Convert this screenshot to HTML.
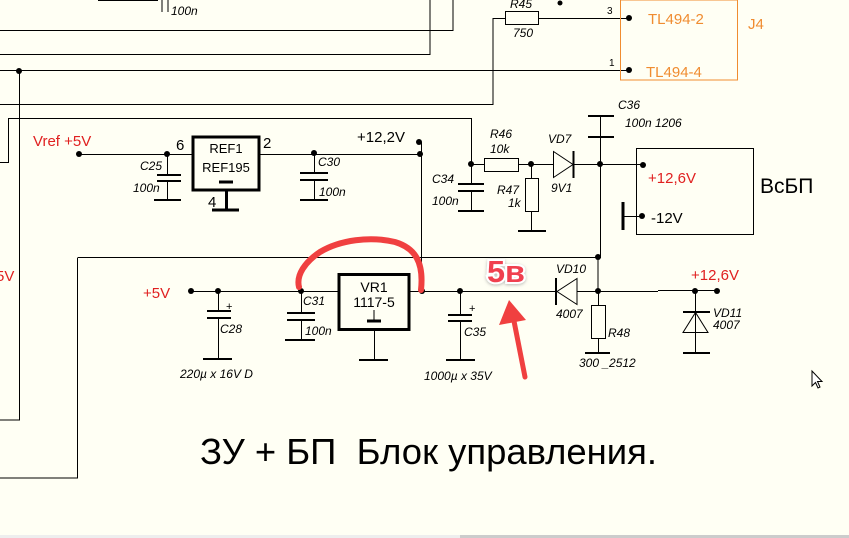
<!DOCTYPE html>
<html><head><meta charset="utf-8"><style>
html,body{margin:0;padding:0;background:#fffff4;}
svg{display:block}
text{font-family:"Liberation Sans","DejaVu Sans",sans-serif}
.i{font-style:italic;font-size:12px}
</style></head><body>
<svg width="849" height="538" viewBox="0 0 849 538" xmlns="http://www.w3.org/2000/svg">
<defs><filter id="sh" x="-30%" y="-30%" width="160%" height="160%"><feDropShadow dx="0" dy="1" stdDeviation="1.5" flood-color="#888" flood-opacity="0.6"/></filter></defs>
<rect width="849" height="538" fill="#fffff4"/>
<g stroke="#000" stroke-width="1" fill="none">
<path d="M98 0.5H158M162 0V12M168 0V12"/>
<path d="M0 30.5H453V0"/>
<path d="M0 54.5H430V0"/>
<path d="M0 70.5H629"/>
<path d="M19.5 70V420H0"/>
<path d="M0 104.5H493V18.5H505"/>
<path d="M538 18.5H629"/>
<rect x="505.5" y="11.5" width="33" height="13"/>
<path d="M0 162.5H8.5V118.5H471.5V164"/>
<path d="M79 154.5H192M260 154.5H421"/>
<path d="M167.5 154V175M167.5 181V200M314.5 154V173M314.5 180V200"/>
<path d="M421.5 142V291"/>
<path d="M471 164.5H484M519 164.5H553M573 164.5H643"/>
<rect x="484.5" y="158.5" width="34" height="13"/>
<path d="M471.5 164V184M471.5 191V211"/>
<path d="M531.5 164V178M531.5 211V231"/>
<rect x="525.5" y="178.5" width="13" height="33"/>
<path d="M553.5 151.5L573 164.5L553.5 177.5Z"/>
<path d="M600.5 116V258M598 258V291"/>
<rect x="636.5" y="148.5" width="117" height="86"/>
<path d="M623 216.5H642"/>
<path d="M77.5 257.5H598M77.5 258V478H0"/>
<path d="M189 291.5H338M410 291.5H556M577 291.5H658M658 290.5H717"/>
<path d="M218.5 291V311M218.5 319V359M301.5 291V313M301.5 320V340M374.5 330V360M460.5 291V315M460.5 321V360"/>
<path d="M577 278.5L557 291.5L577 304.5Z"/>
<path d="M598.5 291V305M598.5 338V353"/>
<rect x="591.5" y="305.5" width="14" height="33"/>
<path d="M695.5 291V353M683 332.5H708L695.5 312.5Z"/>
<path d="M812 371V386L815.5 382.5L818 388L820 387L817.5 381.5H822Z" fill="#fff"/>
</g>
<g stroke="#000" stroke-width="2" fill="none">
<path d="M157 175H181M157 181H181M154 200H181M300 173H328M300 180H328M300 200H328"/>
<path d="M458 184H484M458 191H484M458 211H484M518 231H546"/>
<path d="M573.5 151V178M588 116H614M588 137H614"/>
<path d="M207 311H231M207 318H231M203 359H232M287 313H315M287 320H315M285 340H315M359 360H388"/>
<path d="M448 315H472M448 321H472M446 360H475M556 278V305M585 353H610M683 312H710M683 353H710"/>
</g>
<g stroke="#000" stroke-width="3">
<path d="M212 210H239M226.5 191V210"/>
<path d="M623 202V230"/>
<path d="M219 182H233M367 321H381"/>
</g>
<rect x="193" y="137" width="66" height="53" fill="none" stroke="#000" stroke-width="3"/>
<rect x="339" y="274.5" width="70" height="55" fill="none" stroke="#000" stroke-width="3"/>
<path d="M374 310V321" stroke="#000"/>
<rect x="620.5" y="0" width="117" height="80" fill="none" stroke="#f08c30" stroke-width="1"/>
<g fill="#000">
<circle cx="19" cy="71" r="3"/><circle cx="79" cy="154" r="3"/><circle cx="167" cy="154" r="3"/>
<circle cx="314" cy="153" r="3"/><circle cx="419" cy="142" r="3"/><circle cx="420" cy="154" r="3"/>
<circle cx="629" cy="18" r="3"/><circle cx="629" cy="70" r="3"/><circle cx="560" cy="3" r="2.5"/>
<circle cx="471" cy="164" r="3"/><circle cx="531" cy="164" r="3"/><circle cx="600" cy="164" r="3"/>
<circle cx="643" cy="165" r="3"/><circle cx="642" cy="216" r="3"/><circle cx="598" cy="257" r="3"/>
<circle cx="191" cy="291" r="3"/><circle cx="218" cy="291" r="3"/><circle cx="301" cy="291" r="3"/>
<circle cx="422" cy="291" r="3"/><circle cx="460" cy="291" r="3"/><circle cx="598" cy="291" r="3"/>
<circle cx="695" cy="291" r="3"/><circle cx="717" cy="291" r="3"/>
</g>
<g fill="#000">
<text x="171" y="15" class="i">100n</text>
<text x="510" y="8" class="i">R45</text><text x="513" y="37" class="i">750</text>
<text x="607" y="14" font-size="10">3</text><text x="609" y="66" font-size="10">1</text>
<text x="176" y="150" font-size="15">6</text><text x="263" y="148" font-size="15">2</text>
<text x="208" y="207" font-size="15">4</text>
<text x="226" y="153" font-size="13" text-anchor="middle">REF1</text>
<text x="226" y="172" font-size="13" text-anchor="middle">REF195</text>
<text x="140" y="170" class="i">C25</text><text x="133" y="192" class="i">100n</text>
<text x="318" y="166" class="i">C30</text><text x="319" y="196" class="i">100n</text>
<text x="357" y="142" font-size="15">+12,2V</text>
<text x="490" y="138" class="i">R46</text><text x="490" y="153" class="i">10k</text>
<text x="548" y="143" class="i">VD7</text><text x="551" y="192" class="i">9V1</text>
<text x="432" y="183" class="i">C34</text><text x="432" y="205" class="i">100n</text>
<text x="497" y="194" class="i">R47</text><text x="508" y="207" class="i">1k</text>
<text x="618" y="109" class="i">C36</text><text x="625" y="127" class="i">100n 1206</text>
<text x="651" y="223" font-size="15">-12V</text>
<text x="760" y="193" font-size="21">ВсБП</text>
<text x="374" y="292" font-size="14" text-anchor="middle">VR1</text>
<text x="374" y="307" font-size="14" text-anchor="middle">1117-5</text>
<text x="303" y="305" class="i">C31</text><text x="305" y="335" class="i">100n</text>
<text x="220" y="333" class="i">C28</text><text x="180" y="378" class="i">220µ x 16V D</text>
<text x="464" y="336" class="i">C35</text><text x="424" y="380" class="i">1000µ x 35V</text>
<text x="226" y="310" font-size="11">+</text><text x="469" y="312" font-size="11">+</text>
<text x="556" y="273" class="i">VD10</text><text x="556" y="318" class="i">4007</text>
<text x="608" y="337" class="i">R48</text><text x="579" y="367" class="i">300 _2512</text>
<text x="713" y="317" class="i">VD11</text><text x="713" y="329" class="i">4007</text>
<text x="200" y="464" font-size="36" textLength="457" lengthAdjust="spacingAndGlyphs" xml:space="preserve">ЗУ + БП  Блок управления.</text>
</g>
<g fill="#e02020">
<text x="33" y="146" font-size="15">Vref +5V</text>
<text x="-4" y="281" font-size="15">5V</text>
<text x="648" y="183" font-size="15">+12,6V</text>
<text x="143" y="298" font-size="15">+5V</text>
<text x="691" y="280" font-size="15">+12,6V</text>
</g>
<g fill="#f08c30" font-size="15">
<text x="648" y="24">TL494-2</text><text x="646" y="77">TL494-4</text><text x="748" y="29">J4</text>
</g>
<path d="M299 287C296 275 305 262 320 252C340 240 370 236 395 242C415 248 424 262 421 290" fill="none" stroke="#f04040" stroke-width="6" stroke-linecap="round"/>
<path d="M525 377L513 316" stroke="#f04040" stroke-width="5" stroke-linecap="round"/>
<path d="M509 300L499 325L526 320Z" fill="#f04040"/>
<g filter="url(#sh)">
<text x="487" y="282" font-size="31" font-weight="bold" fill="#f04050" stroke="#fff" stroke-width="4" paint-order="stroke" textLength="38" lengthAdjust="spacingAndGlyphs">5в</text>
</g>
<rect x="0" y="535" width="460" height="3" fill="#eeeeee"/>
<rect x="460" y="535" width="389" height="3" fill="#cccccc"/>
</svg>
</body></html>
